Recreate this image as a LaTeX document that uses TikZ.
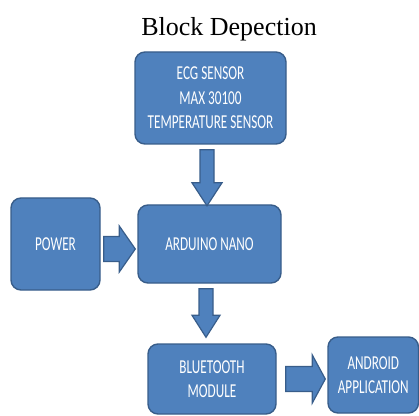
\documentclass[tikz,border=0pt]{standalone}
\usepackage{fontspec}
\setmainfont{Liberation Serif}
\newfontfamily\boxfont[FakeStretch=0.67]{Carlito}
\usetikzlibrary{calc}
\definecolor{boxfill}{HTML}{4F81BD}
\definecolor{boxline}{HTML}{385D8A}
\tikzset{
  blk/.style={draw=boxline, fill=boxfill, line width=1.4pt, rounded corners=10pt,
    inner sep=0pt, align=center, text=white,
    font=\boxfont\fontsize{19.7}{24.5}\selectfont},
  barrow/.style={draw=boxline, fill=boxfill, line width=1.2pt, line join=miter}
}
\begin{document}
\begin{tikzpicture}[x=1pt,y=1pt]
\useasboundingbox (0,0) rectangle (419,415);
\node[anchor=base, font=\fontsize{26}{30}\selectfont] (title) at (229,379.3) {Block Depection};
\node[blk, minimum width=151pt, minimum height=92pt] (ecg) at (210.5,317) {ECG SENSOR\\MAX 30100\\TEMPERATURE SENSOR};
\node[blk, minimum width=89pt, minimum height=92pt] (pow) at (55.5,171) {POWER};
\node[blk, minimum width=143pt, minimum height=78pt] (ard) at (209.5,171) {ARDUINO NANO};
\node[blk, minimum width=128pt, minimum height=70pt] (bt) at (212,36) {BLUETOOTH\\MODULE};
\node[blk, minimum width=90.5pt, minimum height=76pt] (and) at (373.25,40) {ANDROID\\APPLICATION};
% ECG -> Arduino
\path[barrow] let \p1=($(ecg.south)+(-3.5,-5)$), \p2=($(ard.north)+(0,-1.5)$) in
  (\x1-7pt,\y1) -- (\x1+7pt,\y1) -- (\x1+7pt,\y2+23pt) -- (\x1+15pt,\y2+23pt)
  -- (\x1,\y2) -- (\x1-15pt,\y2+23pt) -- (\x1-7pt,\y2+23pt) -- cycle;
% Arduino -> Bluetooth
\path[barrow] let \p1=($(ard.south)+(-3.5,-5)$), \p2=($(bt.north)+(0,6)$) in
  (\x1-7pt,\y1) -- (\x1+7pt,\y1) -- (\x1+7pt,\y2+22pt) -- (\x1+14pt,\y2+22pt)
  -- (\x1,\y2) -- (\x1-14pt,\y2+22pt) -- (\x1-7pt,\y2+22pt) -- cycle;
% Power -> Arduino
\path[barrow] let \p1=($(pow.east)+(3,-5)$), \p2=($(ard.west)+(-2,0)$) in
  (\x1,\y1-12.5pt) -- (\x1,\y1+12.5pt) -- (\x2-16pt,\y1+12.5pt) -- (\x2-16pt,\y1+23pt)
  -- (\x2,\y1) -- (\x2-16pt,\y1-23pt) -- (\x2-16pt,\y1-12.5pt) -- cycle;
% Bluetooth -> Android
\path[barrow] let \p1=($(bt.east)+(9,0)$), \p2=($(and.west)+(-2,0)$) in
  (\x1,\y1-12.5pt) -- (\x1,\y1+12.5pt) -- (\x2-13pt,\y1+12.5pt) -- (\x2-13pt,\y1+24pt)
  -- (\x2,\y1) -- (\x2-13pt,\y1-24pt) -- (\x2-13pt,\y1-12.5pt) -- cycle;
\end{tikzpicture}
\end{document}
